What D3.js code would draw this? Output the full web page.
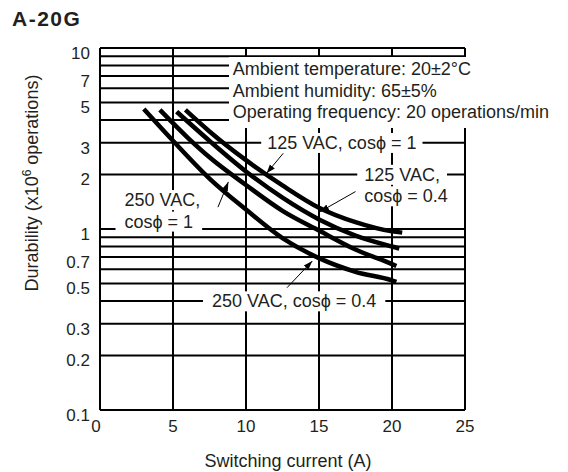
<!DOCTYPE html>
<html><head><meta charset="utf-8">
<script src="https://cdn.jsdelivr.net/npm/d3@7"></script>
<style>
body{margin:0;background:#fff;}
text{font-family:"Liberation Sans",Arial,Helvetica,sans-serif;fill:#231f20;}
</style></head>
<body><svg id="c" width="568" height="472"></svg>
<script>
// ---- data ----
const chartTitle = "A-20G";
const xTickValues = [0, 5, 10, 15, 20, 25];
const yTickLabels = [0.1, 0.2, 0.3, 0.5, 0.7, 1, 2, 3, 5, 7, 10];
const seriesNames = ["250 VAC, cosϕ = 0.4", "250 VAC, cosϕ = 1", "125 VAC, cosϕ = 0.4", "125 VAC, cosϕ = 1"];
const s250_04 = [[3.0,4.6],[5.0,3.07],[7.5,1.9],[10,1.28],[12.5,0.89],[15,0.69],[17.5,0.58],[20,0.52],[20.3,0.51]];
const s250_1  = [[4.1,4.55],[6.0,3.2],[7.5,2.49],[10,1.75],[12.5,1.26],[15,0.98],[17.5,0.77],[20,0.64],[20.3,0.625]];
const s125_04 = [[5.25,4.45],[7.5,3.07],[10,2.08],[12.5,1.49],[15,1.13],[17.5,0.92],[20,0.80],[20.5,0.78]];
const s125_1  = [[5.85,4.55],[7.5,3.46],[10,2.4],[12.5,1.74],[15,1.31],[17.5,1.09],[20,0.97],[20.7,0.955]];
const conditions = ["Ambient temperature: 20±2°C", "Ambient humidity: 65±5%", "Operating frequency: 20 operations/min"];
const xTitle = "Switching current (A)";

// ---- layout ----
const svg = d3.select("#c");
const L = 100, R = 465, T = 48, B = 410;
const x = d3.scaleLinear().domain([0, 25]).range([L, R]);
const y = d3.scaleLog().domain([0.1, 10]).range([B, T]);
const FS = 18;

// grid
const g = svg.append("g");
g.selectAll("line.h").data(y.ticks()).enter().append("line")
  .attr("x1", L).attr("x2", R).attr("y1", d => y(d)).attr("y2", d => y(d))
  .attr("stroke", "#000").attr("stroke-width", 2);
g.selectAll("line.v").data(xTickValues).enter().append("line")
  .attr("x1", d => x(d)).attr("x2", d => x(d)).attr("y1", T).attr("y2", B)
  .attr("stroke", "#000").attr("stroke-width", 2);

// axes labels
svg.selectAll("text.yt").data(yTickLabels).enter().append("text")
  .attr("x", 90).attr("y", d => y(d) + 5).attr("dy", "0.35em")
  .attr("text-anchor", "end").attr("font-size", 17).text(d => d);
svg.selectAll("text.xt").data(xTickValues).enter().append("text")
  .attr("x", d => x(d) - (d === 0 ? 4 : 0)).attr("y", 432)
  .attr("text-anchor", "middle").attr("font-size", 17).text(d => d);

svg.append("text").attr("x", 288).attr("y", 467).attr("text-anchor", "middle")
  .attr("font-size", FS).text(xTitle);
const yt = svg.append("text").attr("transform", "translate(38,183) rotate(-90)")
  .attr("text-anchor", "middle").attr("font-size", FS);
yt.append("tspan").text("Durability (x10");
yt.append("tspan").attr("baseline-shift", "super").attr("font-size", 12).text("6");
yt.append("tspan").text(" operations)");

svg.append("text").attr("x", 12).attr("y", 26).attr("font-size", 21)
  .attr("letter-spacing", 1.5).attr("font-weight", "bold").text(chartTitle);

// labels with white background
const lab = svg.append("g");
function label(lines, xd, yd, pad) {
  const grp = lab.append("g");
  const texts = lines.map((s, i) => grp.append("text")
    .attr("x", x(xd)).attr("y", y(yd) + i * 21.5).attr("dy", "0.35em")
    .attr("font-size", FS).text(s));
  texts.forEach(t => {
    const b = t.node().getBBox();
    grp.insert("rect", "text").attr("x", b.x - pad).attr("y", b.y)
      .attr("width", b.width + 2 * pad).attr("height", b.height).attr("fill", "#fff");
  });
  return grp;
}
// ambient condition block
const amb = lab.append("g");
amb.append("rect").attr("x", 229).attr("y", 57).attr("width", 339).attr("height", 71).attr("fill", "#fff");
conditions.forEach((s, i) => amb.append("text").attr("x", x(9.1)).attr("y", 69 + i * 21.5)
  .attr("dy", "0.35em").attr("font-size", FS).text(s));

label([seriesNames[3]], 11.45, 3, 6);
label(["125 VAC,", "cosϕ = 0.4"], 18.1, 2.0, 7);
label(["250 VAC,", "cosϕ = 1"], 1.68, 1.45, 9);
label([seriesNames[0]], 7.67, 0.4, 9);

// curves
const line = d3.line().x(d => x(d[0])).y(d => y(d[1])).curve(d3.curveMonotoneX);
svg.append("g").selectAll("path").data([s250_04, s250_1, s125_04, s125_1]).enter().append("path")
  .attr("d", line).attr("fill", "none").attr("stroke", "#000").attr("stroke-width", 4.5)
  .attr("stroke-linecap", "butt");

// arrows
svg.append("defs").append("marker").attr("id", "ah").attr("viewBox", "0 0 10 10")
  .attr("refX", 10).attr("refY", 5).attr("markerWidth", 9).attr("markerHeight", 9)
  .attr("markerUnits", "userSpaceOnUse").attr("orient", "auto")
  .append("path").attr("d", "M0,1.5L10,5L0,8.5Z").attr("fill", "#000");
const arrows = [
  [[12.55, 2.62], [11.41, 2.03]],
  [[17.5, 1.61], [15.07, 1.246]],
  [[8.08, 1.32], [8.79, 1.82]],
  [[12.81, 0.474], [14.54, 0.665]]
];
svg.append("g").selectAll("line").data(arrows).enter().append("line")
  .attr("x1", d => x(d[0][0])).attr("y1", d => y(d[0][1]))
  .attr("x2", d => x(d[1][0])).attr("y2", d => y(d[1][1]))
  .attr("stroke", "#000").attr("stroke-width", 1).attr("marker-end", "url(#ah)");
</script></body></html>
